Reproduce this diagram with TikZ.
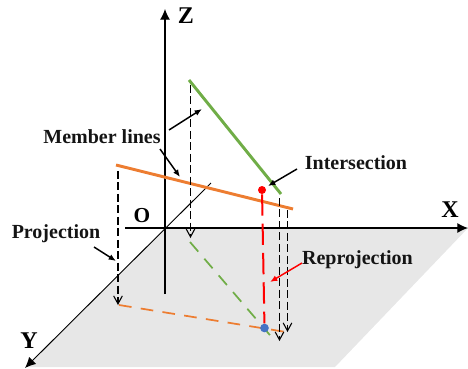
\documentclass[tikz,border=0pt]{standalone}
\usepackage{fontspec}
\setmainfont{Liberation Serif}
\usetikzlibrary{arrows.meta}
\definecolor{ogline}{RGB}{237,125,49}
\definecolor{grline}{RGB}{112,173,71}
\definecolor{plane}{RGB}{231,231,231}
\definecolor{bluedot}{RGB}{68,114,196}
\tikzset{
 x=0.75pt,y=-0.75pt,
 lbl/.style={font=\bfseries\fontsize{15}{17}\selectfont,inner sep=0pt,text=black!92},
 axlbl/.style={font=\bfseries\fontsize{18}{20}\selectfont,inner sep=0pt},
 axis/.style={line width=0.85pt,-{Latex[length=8pt,width=7.5pt]}},
 drop/.style={line width=0.8pt,dash pattern=on 6pt off 2.6pt,-{Straight Barb[length=6pt,width=6.5pt]}},
 callout/.style={line width=1.1pt,-{Latex[length=5.5pt,width=4.5pt]}},
 member/.style={line width=2.2pt},
 shadow/.style={line width=1.3pt,dash pattern=on 9.5pt off 7pt},
 dotmark/.style={circle,inner sep=0pt,minimum size=6pt},
}
\begin{document}
\begin{tikzpicture}
\useasboundingbox (0,0) rectangle (468,368);
\coordinate (O) at (165,228);
\coordinate (Xe) at (468,228);
\coordinate (Xs) at (125,228);
\coordinate (Pb) at (335,367);
\coordinate (Pa) at (26,367);
\fill[plane] (O) -- (Xe) -- (Pb) -- (Pa) -- cycle;
% axes
\coordinate (Zs) at (165,294); \coordinate (Ze) at (165,9);
\coordinate (Ys) at (211,183); \coordinate (Ye) at (25,368);
\draw[axis] (Zs) -- (Ze);
\draw[axis] (Xs) -- (Xe);
\draw[axis,line width=0.7pt] (Ys) -- (Ye);
\node[axlbl] (zl) at (186,16) {Z};
\node[axlbl] (xl) at (450,210) {X};
\node[axlbl] (yl) at (29,341) {Y};
\node[axlbl,font=\bfseries\fontsize{16}{18}\selectfont] (ol) at (142,216) {O};
% member lines
\coordinate (G1) at (189,80); \coordinate (G2) at (281,194);
\coordinate (R1) at (116,165); \coordinate (R2) at (293,209);
\draw[member,grline] (G1) -- (G2);
\draw[member,ogline] (R1) -- (R2);
% projections
\coordinate (g1) at (190,242); \coordinate (g2) at (275,341);
\coordinate (r1) at (119,305); \coordinate (r2) at (286,332);
\draw[shadow,grline] (g1) -- (g2);
\draw[shadow,ogline] (r1) -- (r2);
% drops
\coordinate (a1) at (118,171); \coordinate (a2) at (118,305);
\coordinate (b1) at (190.5,85); \coordinate (b2) at (190.5,238);
\coordinate (c1) at (279.5,198); \coordinate (c2) at (279.5,341);
\coordinate (d1) at (287.5,210); \coordinate (d2) at (287.5,332);
\draw[drop] (a1) -- (a2);
\draw[drop] (b1) -- (b2);
\draw[drop] (c1) -- (c2);
\draw[drop] (d1) -- (d2);
% reprojection
\node[dotmark,fill=red] (rd) at (262,190) {};
\node[dotmark,fill=bluedot,minimum size=6.5pt] (bd) at (264.5,328) {};
\draw[red,line width=1.5pt,dash pattern=on 16pt off 6pt] (rd) -- (bd);
% labels
\node[lbl] (ml) at (102,137) {Member lines};
\node[lbl] (is) at (356,163) {Intersection};
\node[lbl] (pj) at (56,234) {Projection};
\node[lbl] (rp) at (357.5,260) {Reprojection};
\coordinate (m1) at (169,130); \coordinate (m2) at (202,109);
\coordinate (m3) at (160,149); \coordinate (m4) at (180,177);
\coordinate (p1) at (94,247); \coordinate (p2) at (116,261);
\coordinate (i1) at (297,169); \coordinate (i2) at (268,186);
\coordinate (q1) at (302,263); \coordinate (q2) at (270,282);
\draw[callout] (m1) -- (m2);
\draw[callout] (m3) -- (m4);
\draw[callout] (p1) -- (p2);
\draw[callout] (i1) -- (i2);
\draw[callout,red] (q1) -- (q2);
\end{tikzpicture}
\end{document}
